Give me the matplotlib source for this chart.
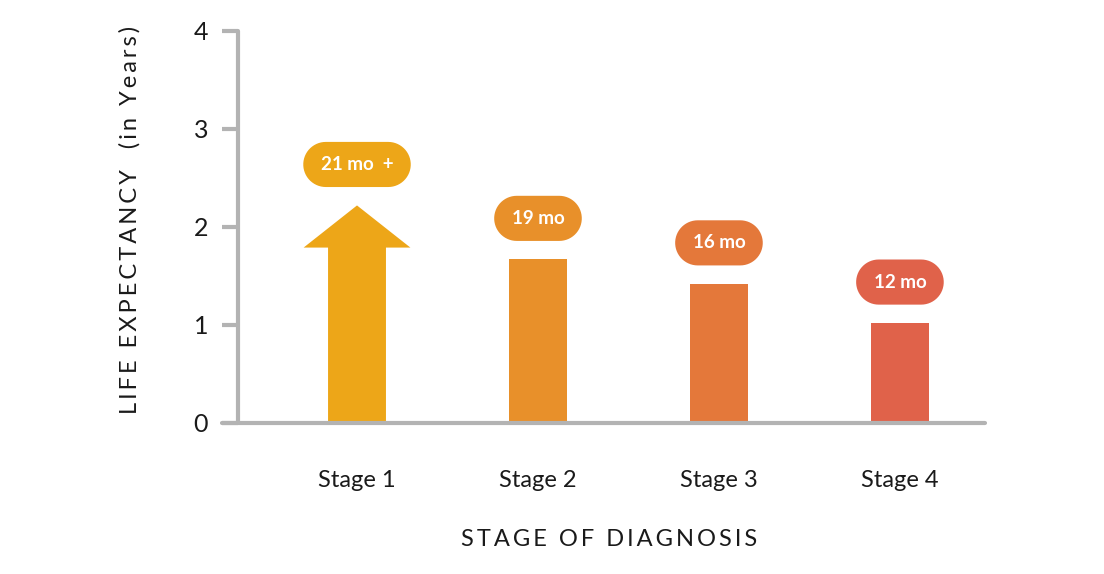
import matplotlib
matplotlib.use('Agg')
import numpy as np
import matplotlib.pyplot as plt
from matplotlib.patches import FancyArrow
from matplotlib.path import Path

plt.rcParams['font.family'] = ['Lato', 'DejaVu Sans']

# ── 데이터 ──
stages = ['Stage 1', 'Stage 2', 'Stage 3', 'Stage 4']
years = [2.22, 1.67, 1.42, 1.02]
labels = ['21 mo  +', '19 mo', '16 mo', '12 mo']
colors = ['#EDA618', '#E8902A', '#E4783A', '#E0624A']
yticks = [0, 1, 2, 3, 4]

GRAY = '#B3B3B3'
TEXT = '#1A1A1A'
BAR_W = 0.32


def spaced(s, gap='\u200a'):
    # 자간 흉내 (hair space 삽입)
    return gap.join(s)


def pill(x0, y0, width, height, mutation_size, px=0.93, py=0.75):
    # 양끝이 반원인 캡슐 모양 박스
    x0 -= px * mutation_size
    y0 -= py * mutation_size
    w = width + 2 * px * mutation_size
    h = height + 2 * py * mutation_size
    r = h / 2
    cy = y0 + r
    t = np.linspace(-np.pi / 2, np.pi / 2, 30)
    right = np.c_[x0 + w - r + r * np.cos(t), cy + r * np.sin(t)]
    left = np.c_[x0 + r - r * np.cos(t), cy - r * np.sin(t)]
    verts = np.vstack([right, left, right[:1]])
    return Path(verts, closed=True)


fig = plt.figure(figsize=(11.04, 5.74), dpi=100)
# 축 영역 (픽셀 기준으로 맞춤)
ax = fig.add_axes([222 / 1104, 1 - 423 / 574, (985 - 222) / 1104, (423 - 31) / 574])

x = list(range(len(stages)))

# Stage 2~4 는 막대
ax.bar(x[1:], years[1:], width=BAR_W, color=colors[1:], zorder=2)

# Stage 1 은 화살표
arrow = FancyArrow(x[0], 0, 0, years[0], width=BAR_W, head_width=0.59,
                   head_length=0.43, length_includes_head=True,
                   color=colors[0], linewidth=0, zorder=2)
ax.add_patch(arrow)

# 라벨 pill
for xi, v, lab, c in zip(x, years, labels, colors):
    ax.annotate(lab, (xi, v), xytext=(0, 29.5),
                textcoords='offset points',
                ha='center', va='center', color='white', fontsize=13.5,
                fontweight='bold',
                bbox=dict(boxstyle=pill, fc=c, ec='none'))

ax.set_xlim(-0.746, 3.47)
ax.set_ylim(0, 4)

for s in ['top', 'right']:
    ax.spines[s].set_visible(False)
ax.spines['left'].set_position(('data', -0.657))
for s in ['left', 'bottom']:
    ax.spines[s].set_color(GRAY)
    ax.spines[s].set_linewidth(3)
    ax.spines[s].set_capstyle('round')

ax.set_yticks(yticks)
ax.set_yticklabels([str(t) for t in yticks], fontsize=18, color=TEXT)
ax.tick_params(axis='y', length=11.5, width=3, color=GRAY, pad=10)

ax.set_xticks(x)
ax.set_xticklabels(stages, fontsize=17, color=TEXT)
ax.tick_params(axis='x', length=0, pad=34)

ax.set_xlabel(spaced('STAGE OF DIAGNOSIS', '\u2009'),
              fontsize=17, color=TEXT, va='center')
ax.xaxis.set_label_coords(0.508, -0.298)
fig.text(130 / 1104, 1 - 220 / 574,
         spaced('LIFE EXPECTANCY  (in Years)', '\u200a\u200a'),
         rotation=90, ha='center', va='center', fontsize=17, color=TEXT)

fig.savefig('out.png', dpi=100)
